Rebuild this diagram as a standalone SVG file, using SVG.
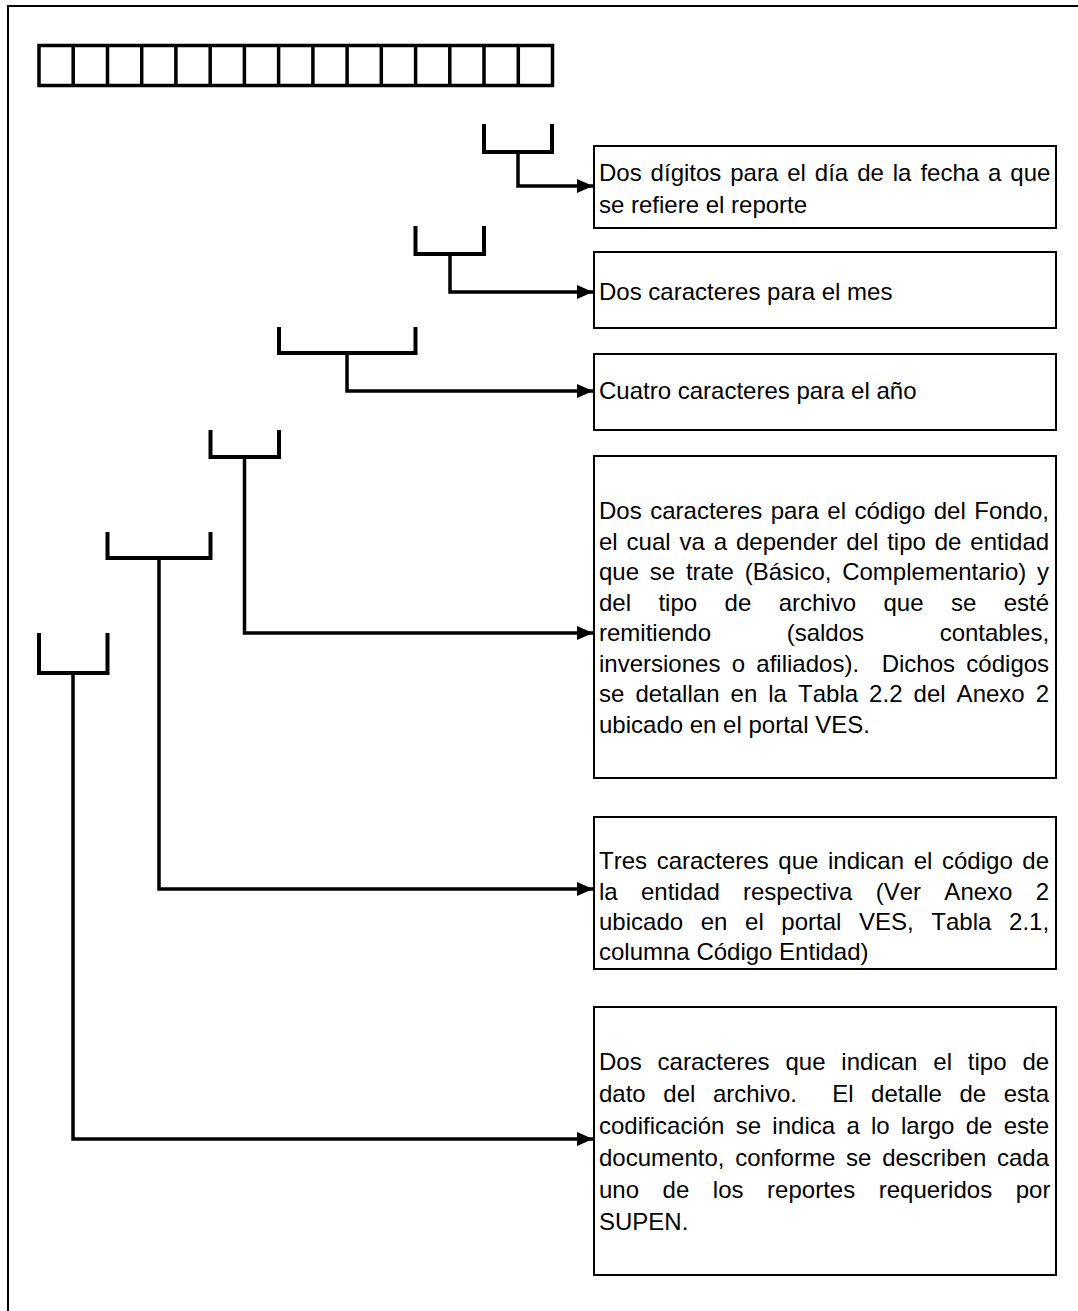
<svg xmlns="http://www.w3.org/2000/svg" width="1078" height="1311" viewBox="0 0 1078 1311">
<style>
.frame{fill:none;stroke:#000;stroke-width:2}
.cell{fill:none;stroke:#000;stroke-width:3.5}
.br{fill:none;stroke:#000;stroke-width:4;stroke-linejoin:miter}
.conn{fill:none;stroke:#000;stroke-width:3.5;stroke-linejoin:miter}
.box{fill:#fff;stroke:#000;stroke-width:2}
.t{font-family:"Liberation Sans",Arial,sans-serif;font-size:24px;fill:#000;font-kerning:none}
</style>
<defs>
<marker id="ah" markerUnits="userSpaceOnUse" markerWidth="16" markerHeight="14" refX="16" refY="7" orient="auto">
<path d="M0,0 L16,7 L0,14 z" fill="#000"/>
</marker>
</defs>
<rect width="1078" height="1311" fill="#fff"/>
<path class="frame" d="M8,1320 V6 H1090"/>
<g id="cells">
<rect class="cell" x="39" y="45.5" width="513.5" height="40"/>
<path class="cell" d="M73.2,45.5V85.5M107.5,45.5V85.5M141.7,45.5V85.5M175.9,45.5V85.5M210.2,45.5V85.5M244.4,45.5V85.5M278.6,45.5V85.5M312.9,45.5V85.5M347.1,45.5V85.5M381.3,45.5V85.5M415.6,45.5V85.5M449.8,45.5V85.5M484,45.5V85.5M518.3,45.5V85.5"/>
</g>
<g id="connectors">
<path class="br" d="M484,124 V152 H552 V124"/>
<path class="conn" d="M518,152 V186 H593" marker-end="url(#ah)"/>
<path class="br" d="M415.5,226 V254 H484 V226"/>
<path class="conn" d="M450,254 V292 H593" marker-end="url(#ah)"/>
<path class="br" d="M279,327 V353 H415.5 V327"/>
<path class="conn" d="M347,353 V391 H593" marker-end="url(#ah)"/>
<path class="br" d="M210.5,430 V457 H279 V430"/>
<path class="conn" d="M244.5,457 V633 H593" marker-end="url(#ah)"/>
<path class="br" d="M107.5,532 V558 H210.5 V532"/>
<path class="conn" d="M159,558 V889 H593" marker-end="url(#ah)"/>
<path class="br" d="M39,633 V673 H107.5 V633"/>
<path class="conn" d="M73,673 V1139 H593" marker-end="url(#ah)"/>
</g>
<g id="box-dia">
<rect class="box" x="594" y="146" width="462" height="82"/>
<text class="t" x="599" y="181" word-spacing="2.27">Dos dígitos para el día de la fecha a que</text>
<text class="t" x="599" y="213">se refiere el reporte</text>
</g>
<g id="box-mes">
<rect class="box" x="594" y="252" width="462" height="76"/>
<text class="t" x="599" y="300">Dos caracteres para el mes</text>
</g>
<g id="box-anio">
<rect class="box" x="594" y="354" width="462" height="76"/>
<text class="t" x="599" y="399">Cuatro caracteres para el año</text>
</g>
<g id="box-fondo">
<rect class="box" x="594" y="456" width="462" height="322"/>
<text class="t" x="599" y="519" word-spacing="1.85">Dos caracteres para el código del Fondo,</text>
<text class="t" x="599" y="549.5" word-spacing="2.22">el cual va a depender del tipo de entidad</text>
<text class="t" x="599" y="580" word-spacing="4.1">que se trate (Básico, Complementario) y</text>
<text class="t" x="599" y="610.5" word-spacing="20.75">del tipo de archivo que se esté</text>
<text class="t" x="599" y="641" word-spacing="68.95">remitiendo (saldos contables,</text>
<text class="t" x="599" y="671.5" word-spacing="4.64">inversiones o afiliados).&#160; Dichos códigos</text>
<text class="t" x="599" y="702" word-spacing="4.39">se detallan en la Tabla 2.2 del Anexo 2</text>
<text class="t" x="599" y="732.5">ubicado en el portal VES.</text>
</g>
<g id="box-entidad">
<rect class="box" x="594" y="817" width="462" height="152"/>
<text class="t" x="599" y="869" word-spacing="2.97">Tres caracteres que indican el código de</text>
<text class="t" x="599" y="899.5" word-spacing="16.64">la entidad respectiva (Ver Anexo 2</text>
<text class="t" x="599" y="930" word-spacing="10.97">ubicado en el portal VES, Tabla 2.1,</text>
<text class="t" x="599" y="960">columna Código Entidad)</text>
</g>
<g id="box-tipo">
<rect class="box" x="594" y="1007" width="462" height="268"/>
<text class="t" x="599" y="1070" word-spacing="9.2">Dos caracteres que indican el tipo de</text>
<text class="t" x="599" y="1102" word-spacing="10.93">dato del archivo.&#160; El detalle de esta</text>
<text class="t" x="599" y="1134" word-spacing="4.64">codificación se indica a lo largo de este</text>
<text class="t" x="599" y="1166" word-spacing="4.12">documento, conforme se describen cada</text>
<text class="t" x="599" y="1198" word-spacing="16.9">uno de los reportes requeridos por</text>
<text class="t" x="599" y="1230">SUPEN.</text>
</g>
</svg>
